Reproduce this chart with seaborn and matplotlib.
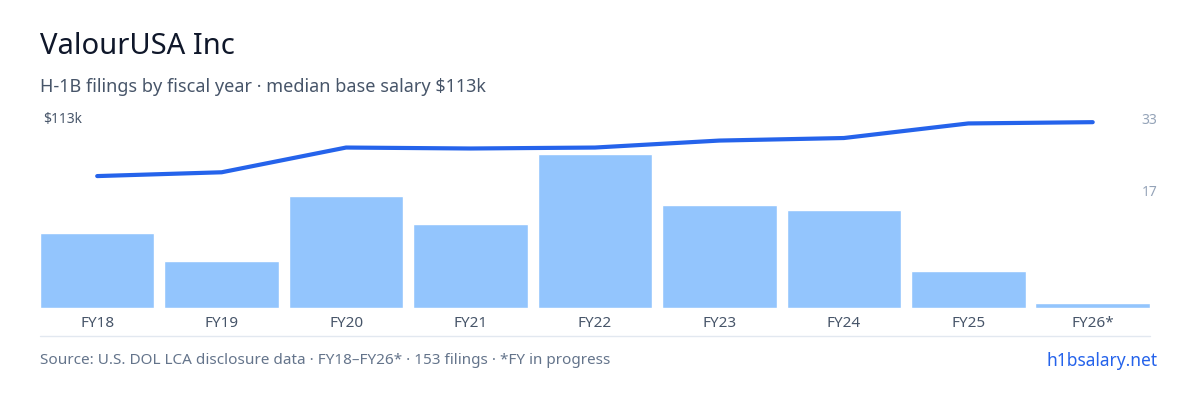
import numpy as np
import pandas as pd
import seaborn as sns
import matplotlib.pyplot as plt
from matplotlib.lines import Line2D

years = ["FY18", "FY19", "FY20", "FY21", "FY22", "FY23", "FY24", "FY25", "FY26*"]
filings = [16, 10, 24, 18, 33, 22, 21, 8, 1]
salary_k = [95, 96.2, 104, 103.7, 104, 106.2, 107, 111.6, 112]

df = pd.DataFrame({"year": years, "filings": filings, "salary": salary_k})

sns.set_style("white")
plt.rcParams["font.family"] = ["Noto Sans", "DejaVu Sans"]

fig = plt.figure(figsize=(12, 4), dpi=100)
ax = fig.add_axes([0.0333, 0.23, 0.925, 0.4725])
sns.barplot(data=df, x="year", y="filings", color="#93c5fd", width=0.92,
            saturation=1, ax=ax)
ax.set_xlim(-0.46, len(years) - 0.54)
ymax = 40.4
ax.set_ylim(0, ymax)
ax.set(xlabel="", ylabel="")
ax.tick_params(axis="x", length=0, labelsize=11, labelcolor="#475569", pad=6)
for s in ax.spines.values():
    s.set_visible(False)

ax2 = ax.twinx()
sns.lineplot(x=np.arange(len(years)), y=df["salary"], color="#2563eb",
             linewidth=3, ax=ax2)
ax2.set_ylim(53.4, 113)
ax2.set(ylabel="")
for s in ax2.spines.values():
    s.set_visible(False)

# right: filings scale labels, left: salary label
ax.yaxis.tick_right()
ax.set_yticks([ymax, ymax * 0.62])
ax.set_yticklabels(["33", "17"])
ax.tick_params(axis="y", length=0, labelsize=10, labelcolor="#94a3b8", pad=-6)
ax2.yaxis.tick_left()
ax2.set_yticks([113])
ax2.set_yticklabels(["$113k"])
ax2.tick_params(axis="y", length=0, labelsize=10, labelcolor="#475569", pad=-30)
for t in ax2.get_yticklabels():
    t.set_verticalalignment("center")

fig.add_artist(Line2D([0.0333, 0.958], [1 - 336 / 400] * 2, color="#e2e8f0",
                      linewidth=1))
fig.text(0.0333, 1 - 47 / 400, "ValourUSA Inc", fontsize=21, color="#0f172a",
         va="center")
fig.text(0.0333, 1 - 87 / 400, "H-1B filings by fiscal year · median base salary $113k",
         fontsize=13, color="#475569", va="center")
fig.text(0.0333, 1 - 361 / 400,
         "Source: U.S. DOL LCA disclosure data · FY18–FY26* · 153 filings · *FY in progress",
         fontsize=11, color="#64748b", va="center")
fig.text(0.965, 1 - 361 / 400, "h1bsalary.net", fontsize=12.5, color="#2563eb",
         va="center", ha="right")

fig.savefig("out.png", dpi=100)
